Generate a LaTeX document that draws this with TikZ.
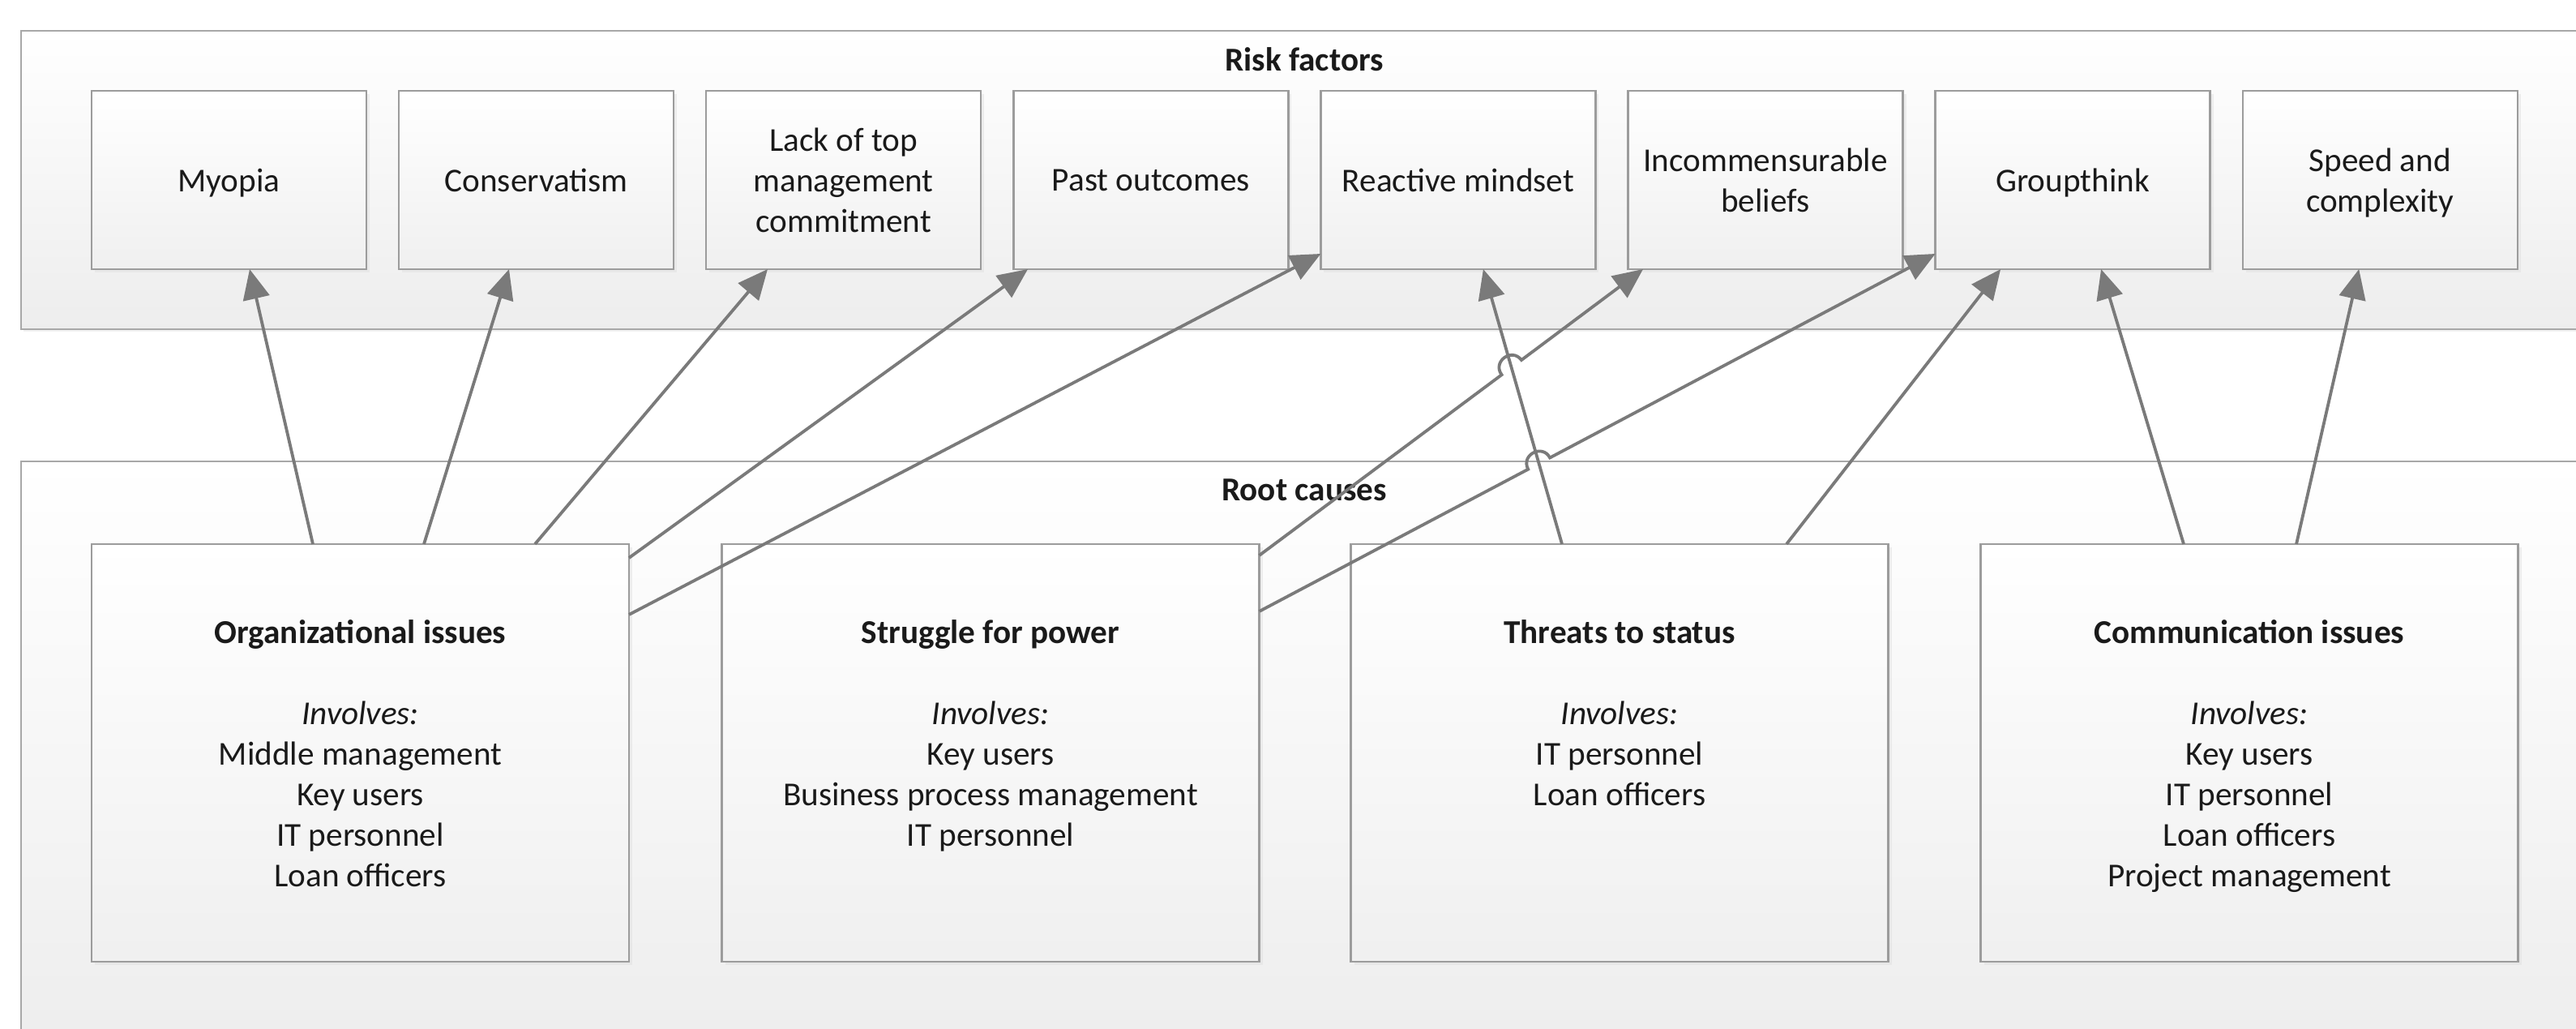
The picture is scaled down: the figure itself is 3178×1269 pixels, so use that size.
\documentclass[tikz,border=0pt]{standalone}
\usepackage{fontspec}
\setmainfont{Carlito}
\usetikzlibrary{arrows.meta,calc,shadows}
\definecolor{boxline}{HTML}{9C9C9C}
\definecolor{contline}{HTML}{A8A8A8}
\definecolor{arrowgray}{HTML}{7A7A7A}
\definecolor{txt}{HTML}{1A1A1A}
\newcommand{\NoDp}[1]{\raisebox{0pt}[\height][0pt]{#1}}
\begin{document}
\begin{tikzpicture}[x=0.25pt, y=-0.25pt,
  every node/.style={font=\fontsize{10.3}{12.5}\selectfont, text=txt},
  container/.style={draw=contline, line width=0.7pt, top color=white, bottom color=black!7,
    drop shadow={shadow xshift=0.8pt, shadow yshift=-0.8pt, fill=black!10}},
  titletext/.style={font=\fontsize{10.3}{12.5}\selectfont\bfseries},
  riskbox/.style={draw=boxline, line width=0.6pt, top color=white, bottom color=black!6,
    minimum width=84.75pt, minimum height=55pt, inner sep=0pt, outer sep=0pt, align=center,
    drop shadow={shadow xshift=1pt, shadow yshift=-1pt, fill=black!12}},
  rootbox/.style={draw=boxline, line width=0.6pt, top color=white, bottom color=black!6,
    minimum width=165.75pt, minimum height=128.75pt, inner sep=0pt, outer sep=0pt,
    drop shadow={shadow xshift=1pt, shadow yshift=-1pt, fill=black!12}},
  roottext/.style={align=center, inner sep=0pt, anchor=north},
  conn/.style={draw=arrowgray, line width=0.95pt, -{Triangle[length=9.2pt, width=8.2pt]}}
]
\path[use as bounding box, clip] (0,0) rectangle (3178,1269);
\fill[white] (0,0) rectangle (3178,1269);

% containers
\draw[container] (26,38) rectangle (3192,406);
\draw[container] (26,569) rectangle (3192,1300);
\node[titletext] (risktitle) at (1609,73) {Risk factors};
\node[titletext] (roottitle) at (1609,604) {Root causes};

% risk factor boxes
\node[riskbox] (myopia) at (282.5,222) {\NoDp{Myopia}};
\node[riskbox] (cons)   at (661.6,222) {\NoDp{Conservatism}};
\node[riskbox] (lack)   at (1040.7,222) {Lack of top\\management\\commitment};
\node[riskbox] (past)   at (1419.8,222) {\NoDp{Past outcomes}};
\node[riskbox] (react)  at (1798.9,222) {\NoDp{Reactive mindset}};
\node[riskbox] (incom)  at (2178.0,222) {Incommensurable\\beliefs};
\node[riskbox] (group)  at (2557.1,222) {\NoDp{Groupthink}};
\node[riskbox] (speed)  at (2936.2,222) {Speed and\\\NoDp{complexity}};

% root cause boxes
\node[rootbox] (org)    at (444.5,928.5) {};
\node[rootbox] (power)  at (1222,928.5) {};
\node[rootbox] (threat) at (1998,928.5) {};
\node[rootbox] (comm)   at (2775,928.5) {};

\node[roottext] (orgtext) at ($(org.north)+(0,82)$)
  {\rule{0pt}{10pt}\textbf{Organizational issues}\\[12.5pt]\textit{Involves:}\\Middle management\\Key users\\IT personnel\\Loan officers};
\node[roottext] (powertext) at ($(power.north)+(0,82)$)
  {\rule{0pt}{10pt}\textbf{Struggle for power}\\[12.5pt]\textit{Involves:}\\Key users\\Business process management\\IT personnel};
\node[roottext] (threattext) at ($(threat.north)+(0,82)$)
  {\rule{0pt}{10pt}\textbf{Threats to status}\\[12.5pt]\textit{Involves:}\\IT personnel\\Loan officers};
\node[roottext] (commtext) at ($(comm.north)+(0,82)$)
  {\rule{0pt}{10pt}\textbf{Communication issues}\\[12.5pt]\textit{Involves:}\\Key users\\IT personnel\\Loan officers\\Project management};

% connector end points
\coordinate (s1) at ($(org.north)+(-58.5,0)$);
\coordinate (t1) at ($(myopia.south)+(25.5,0)$);
\coordinate (s2) at ($(org.north)+(78.5,0)$);
\coordinate (t2) at ($(cons.south)+(-33.6,0)$);
\coordinate (s3) at ($(org.north)+(215.5,0)$);
\coordinate (t3) at ($(lack.south)+(-93.7,0)$);
\coordinate (s4) at ($(org.north east)+(0,17)$);
\coordinate (t4) at ($(past.south)+(-151.8,0)$);
\coordinate (s5) at ($(org.north east)+(0,87)$);
\coordinate (t5) at ($(react.south west)+(0,-19)$);
\coordinate (s6) at ($(power.north east)+(0,14)$);
\coordinate (t6) at ($(incom.south)+(-151,0)$);
\coordinate (s7) at ($(power.north east)+(0,83)$);
\coordinate (t7) at ($(group.south west)+(0,-19)$);
\coordinate (s8) at ($(threat.north)+(-71,0)$);
\coordinate (t8) at ($(react.south)+(31,0)$);
\coordinate (s9) at ($(threat.north)+(206,0)$);
\coordinate (t9) at ($(group.south)+(-89,0)$);
\coordinate (s10) at ($(comm.north)+(-81,0)$);
\coordinate (t10) at ($(group.south)+(35,0)$);
\coordinate (s11) at ($(comm.north)+(58,0)$);
\coordinate (t11) at ($(speed.south)+(-26,0)$);

% line hops over threat -> reactive connector
\coordinate (x6) at (intersection of s6--t6 and s8--t8);
\coordinate (a6) at ($(x6)!3.8pt!(s6)$);
\coordinate (b6) at ($(x6)!3.8pt!(t6)$);
\coordinate (x7) at (intersection of s7--t7 and s8--t8);
\coordinate (a7) at ($(x7)!3.8pt!(s7)$);
\coordinate (b7) at ($(x7)!3.8pt!(t7)$);

% connectors
\draw[conn] (s1) -- (t1);
\draw[conn] (s2) -- (t2);
\draw[conn] (s3) -- (t3);
\draw[conn] (s4) -- (t4);
\draw[conn] (s5) -- (t5);
\draw[conn] (s6) -- (a6) .. controls ($(a6)!5pt!90:(x6)$) and ($(b6)!5pt!-90:(x6)$) .. (b6) -- (t6);
\draw[conn] (s7) -- (a7) .. controls ($(a7)!5pt!90:(x7)$) and ($(b7)!5pt!-90:(x7)$) .. (b7) -- (t7);
\draw[conn] (s8) -- (t8);
\draw[conn] (s9) -- (t9);
\draw[conn] (s10) -- (t10);
\draw[conn] (s11) -- (t11);
\end{tikzpicture}
\end{document}
